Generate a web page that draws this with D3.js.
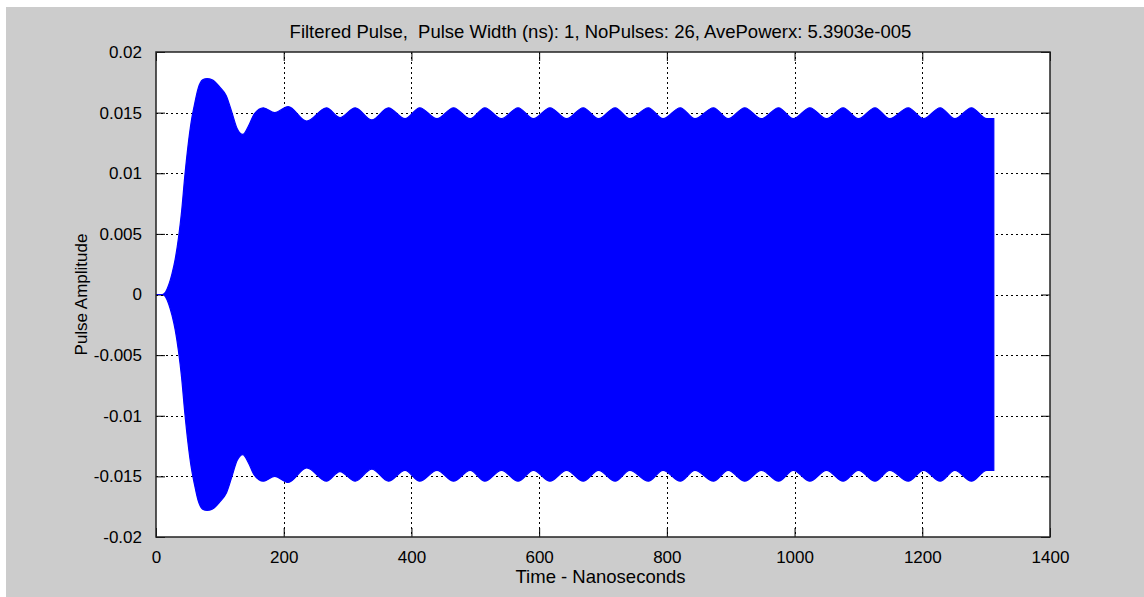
<!DOCTYPE html>
<html>
<head>
<meta charset="utf-8">
<script src="https://cdn.jsdelivr.net/npm/d3@7"></script>
<style>
  html, body { margin: 0; padding: 0; background: #ffffff; }
  svg { display: block; }
  text { font-family: "Liberation Sans", Arial, sans-serif; fill: #000; }
</style>
</head>
<body>
<svg id="chart" width="1144" height="597"></svg>
<script>
// Envelope of the filtered pulse train (ns, amplitude); the carrier fills between +env and -env
const envTime = [0, 10, 15, 20, 25, 30, 35, 40, 45, 50, 55, 60, 66, 73, 80, 88, 100, 110, 119, 127, 136, 144, 154,
  168, 186, 207, 236, 267, 288, 312, 338, 364, 390, 413, 440, 466, 492, 515, 541, 567, 591, 617, 643,
  669, 693, 719, 742, 771, 794, 821, 844, 873, 896, 922, 948, 975, 998, 1024, 1050, 1076, 1100, 1126,
  1149, 1178, 1202, 1228, 1251, 1277, 1301, 1312];
const envAmp = [0, 0, 0.0002, 0.0008, 0.0017, 0.0029, 0.0046, 0.0068, 0.0097, 0.0122, 0.0142, 0.0156, 0.0170,
  0.0177, 0.0178, 0.0177, 0.0171, 0.0164, 0.0150, 0.0137, 0.0132, 0.0138, 0.0149,
  0.0154, 0.0150, 0.0155, 0.0143, 0.0154, 0.0146, 0.0154, 0.0144, 0.0154, 0.0145, 0.0154, 0.0145,
  0.0154, 0.0145, 0.0154, 0.0145, 0.0154, 0.0145, 0.0154, 0.0145, 0.0154, 0.0145, 0.0154, 0.0145,
  0.0154, 0.0145, 0.0154, 0.0145, 0.0154, 0.0145, 0.0154, 0.0145, 0.0154, 0.0145, 0.0154, 0.0145,
  0.0154, 0.0145, 0.0154, 0.0145, 0.0154, 0.0145, 0.0154, 0.0145, 0.0154, 0.0145, 0.0145];

const xTicks = [0, 200, 400, 600, 800, 1000, 1200, 1400];
const xTickLabels = ["0", "200", "400", "600", "800", "1000", "1200", "1400"];
const yTicks = [-0.02, -0.015, -0.01, -0.005, 0, 0.005, 0.01, 0.015, 0.02];
const yTickLabels = ["-0.02", "-0.015", "-0.01", "-0.005", "0", "0.005", "0.01", "0.015", "0.02"];

const titleText = "Filtered Pulse,  Pulse Width (ns): 1, NoPulses: 26, AvePowerx: 5.3903e-005";
const xLabel = "Time - Nanoseconds";
const yLabel = "Pulse Amplitude";

const svg = d3.select("#chart");
const W = 1144, H = 597;
const plot = { left: 156, top: 52, right: 1050, bottom: 537 };

// figure background
svg.append("rect").attr("x", 6).attr("y", 7).attr("width", W - 6).attr("height", H - 7).attr("fill", "#cccccc");

const x = d3.scaleLinear().domain([0, 1400]).range([plot.left, plot.right]);
const y = d3.scaleLinear().domain([-0.02, 0.02]).range([plot.bottom, plot.top]);

// axes area
svg.append("rect")
  .attr("x", plot.left).attr("y", plot.top)
  .attr("width", plot.right - plot.left).attr("height", plot.bottom - plot.top)
  .attr("fill", "#ffffff");

// dotted grid
const grid = svg.append("g").attr("stroke", "#000").attr("stroke-width", 1).attr("stroke-dasharray", "2,3");
grid.selectAll(".gx").data(xTicks.slice(1, -1)).join("line")
  .attr("x1", d => Math.round(x(d)) + 0.5).attr("x2", d => Math.round(x(d)) + 0.5)
  .attr("y1", plot.top).attr("y2", plot.bottom);
grid.selectAll(".gy").data(yTicks.slice(1, -1)).join("line")
  .attr("y1", d => Math.round(y(d)) + 0.5).attr("y2", d => Math.round(y(d)) + 0.5)
  .attr("x1", plot.left).attr("x2", plot.right);

// inward tick marks on all four sides
const tickLen = 9;
const fmtX = (d, i) => xTickLabels[i];
const fmtY = (d, i) => yTickLabels[i];
const axB = svg.append("g").attr("transform", `translate(0,${plot.bottom})`)
  .call(d3.axisBottom(x).tickValues(xTicks).tickFormat(fmtX).tickSizeInner(-tickLen).tickSizeOuter(0).tickPadding(14));
const axT = svg.append("g").attr("transform", `translate(0,${plot.top})`)
  .call(d3.axisTop(x).tickValues(xTicks).tickFormat("").tickSizeInner(-tickLen).tickSizeOuter(0));
const axL = svg.append("g").attr("transform", `translate(${plot.left},0)`)
  .call(d3.axisLeft(y).tickValues(yTicks).tickFormat(fmtY).tickSizeInner(-tickLen).tickSizeOuter(0).tickPadding(14));
const axR = svg.append("g").attr("transform", `translate(${plot.right},0)`)
  .call(d3.axisRight(y).tickValues(yTicks).tickFormat("").tickSizeInner(-tickLen).tickSizeOuter(0));
[axB, axT, axL, axR].forEach(g => {
  g.select(".domain").remove();
  g.selectAll("line").attr("stroke", "#000").attr("stroke-width", 1);
  g.selectAll("text").attr("font-size", 17).attr("font-family", "Liberation Sans, Arial, sans-serif").attr("fill", "#000");
});

// filled pulse envelope
const pts = envTime.map((t, i) => ({ t, a: envAmp[i] }));
const area = d3.area()
  .x(d => x(d.t))
  .y0(d => y(-d.a))
  .y1(d => y(d.a))
  .curve(d3.curveMonotoneX);
svg.append("path").datum(pts)
  .attr("d", area)
  .attr("fill", "#0000ff")
  .attr("stroke", "#0000ff")
  .attr("stroke-width", 1.2);

// axes box
svg.append("rect")
  .attr("x", plot.left).attr("y", plot.top)
  .attr("width", plot.right - plot.left).attr("height", plot.bottom - plot.top)
  .attr("fill", "none").attr("stroke", "#222").attr("stroke-width", 1.5);

// title and axis labels
svg.append("text")
  .attr("x", 600.5).attr("y", 38)
  .attr("text-anchor", "middle").attr("font-size", 18.5)
  .style("white-space", "pre")
  .text(titleText);
svg.append("text")
  .attr("x", 600.5).attr("y", 583)
  .attr("text-anchor", "middle").attr("font-size", 18.5)
  .text(xLabel);
svg.append("text")
  .attr("transform", `translate(87,${(plot.top + plot.bottom) / 2}) rotate(-90)`)
  .attr("text-anchor", "middle").attr("font-size", 17)
  .text(yLabel);
</script>
</body>
</html>
